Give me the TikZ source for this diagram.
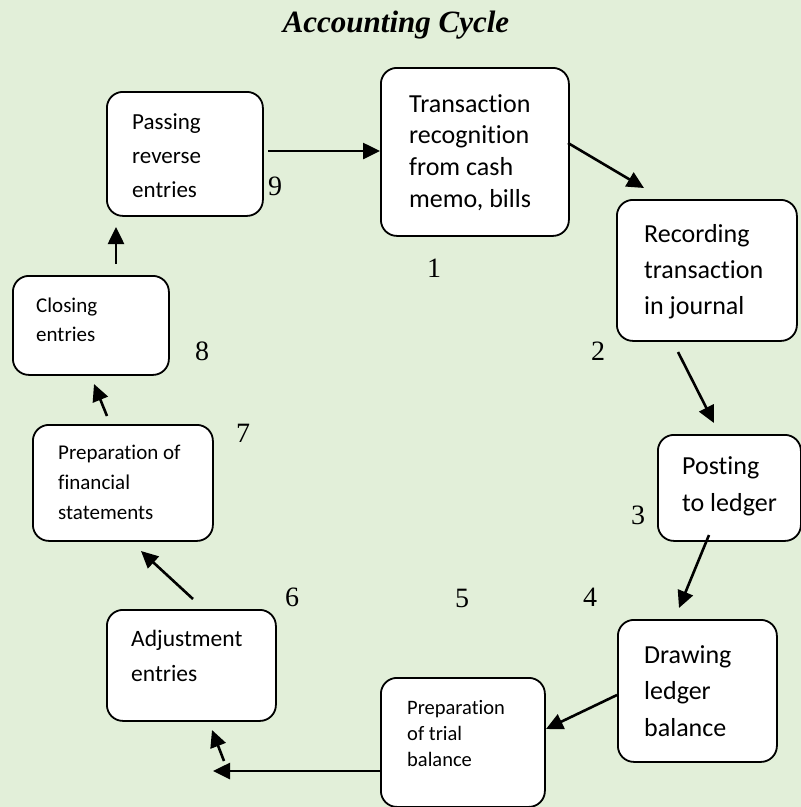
\documentclass[tikz,border=0pt]{standalone}
\usepackage{fontspec}
\setmainfont{Liberation Serif}
\newfontfamily\calfont[Ligatures=NoCommon]{Carlito}
\usetikzlibrary{arrows.meta}
\definecolor{cyclebg}{HTML}{E2EFD9}

\tikzset{
  stepbox/.style={draw, line width=1.8pt, fill=white, rounded corners=16pt, anchor=north west, inner sep=0pt},
  steptext/.style={anchor=base west, inner sep=0pt, align=flush left, text width=#1},
  bigtext/.style={font=\calfont\fontsize{26}{31.7}\selectfont},
  stepnum/.style={anchor=base, inner sep=0pt, font=\fontsize{28}{28}\selectfont},
  steparrow/.style={line width=2.6pt, -{Triangle[length=17pt,width=16pt]}}
}

\begin{document}
\begin{tikzpicture}[x=1pt,y=-1pt]
  \useasboundingbox (0,0) rectangle (801,807);
  \fill[cyclebg] (0,0) rectangle (801,807);

  \node[anchor=base, inner sep=0pt, font=\bfseries\itshape\fontsize{31}{31}\selectfont] (title) at (396,32) {Accounting Cycle};

  % boxes: name / left / top / width / height
  \foreach \name/\x/\y/\w/\h in {trans/380/67/188/168, record/616/199/180/141, post/657/434/143/106,
      balance/617/619/159/142, trial/380/677/164/129, adjust/106/609/169/111,
      stmt/32/424/180/116, close/12/275/156/99, reverse/106/91/156/124}
    \node[stepbox, minimum width=\w, minimum height=\h] (\name) at (\x,\y) {};

  \node[steptext=150pt, bigtext] (transtext) at (409,112) {Transaction\\recognition\\from cash\\memo, bills};
  \node[steptext=140pt, font=\calfont\fontsize{26}{36}\selectfont] (recordtext) at (644,242) {Recording\\transaction\\in journal};
  \node[steptext=115pt, font=\calfont\fontsize{26}{37}\selectfont] (posttext) at (682,474) {Posting\\to ledger};
  \node[steptext=125pt, font=\calfont\fontsize{26}{36.5}\selectfont] (balancetext) at (644,663) {Drawing\\ledger\\balance};
  \node[steptext=130pt, font=\calfont\fontsize{20.5}{26}\selectfont] (trialtext) at (407,714) {Preparation\\of trial\\balance};
  \node[steptext=140pt, font=\calfont\fontsize{23.5}{35}\selectfont] (adjusttext) at (131,646) {Adjustment\\entries};
  \node[steptext=150pt, font=\calfont\fontsize{21}{30}\selectfont] (stmttext) at (58,459) {Preparation of\\financial\\statements};
  \node[steptext=125pt, font=\calfont\fontsize{21}{29}\selectfont] (closetext) at (36,312) {Closing\\entries};
  \node[steptext=125pt, font=\calfont\fontsize{23}{34}\selectfont] (reversetext) at (132,129) {Passing\\reverse\\entries};

  \foreach \n/\x/\y in {1/434/277, 2/598/360, 3/638/524, 4/590/606, 5/462/607,
      6/292/606, 7/243/442, 8/202/360, 9/275/195}
    \node[stepnum] (num\n) at (\x,\y) {\n};

  % arrow ends
  \foreach \name/\pos in {s1/{268,151}, e1/{380,151}, s2/{568,143}, e2/{644,188},
      s3/{678,352}, e3/{714,423}, s4/{709,535}, e4/{679,608}, s5/{617,695}, e5/{546,729},
      s6/{380,771}, e6/{213,771}, s7/{224,761}, e7/{212,730}, s8/{193,599}, e8/{141,551},
      s9/{107,416}, e9/{94,384}, s10/{116,264}, e10/{116,227}}
    \coordinate (\name) at (\pos);

  \foreach \i in {1,...,10}
    \draw[steparrow] (s\i) -- (e\i);
\end{tikzpicture}
\end{document}
